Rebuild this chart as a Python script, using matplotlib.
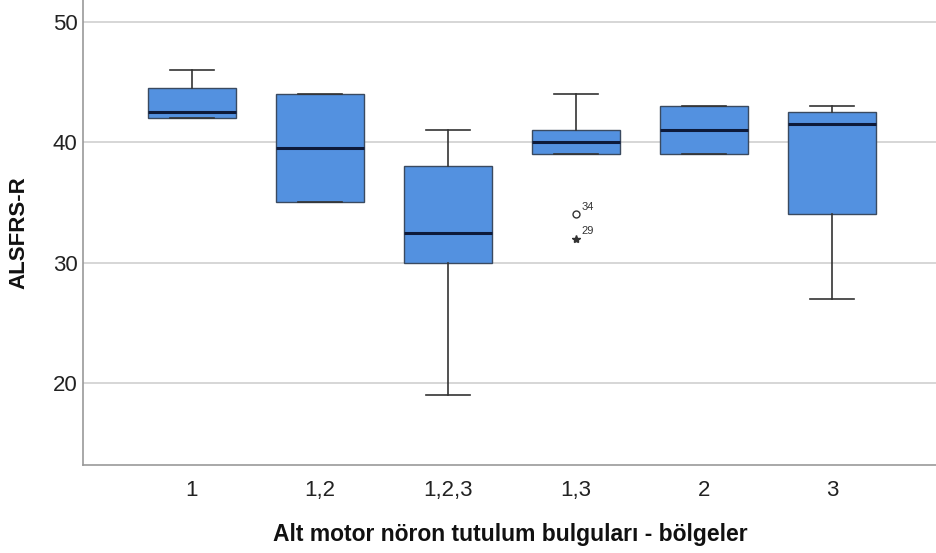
import matplotlib
matplotlib.use("Agg")
import matplotlib.pyplot as plt

plt.rcParams['font.family'] = ['Liberation Sans', 'DejaVu Sans']

categories = ["1", "1,2", "1,2,3", "1,3", "2", "3"]
whisker_low = [42.0, 35.0, 19.0, 39.0, 39.0, 27.0]
q1 = [42.0, 35.0, 30.0, 39.0, 39.0, 34.0]
median = [42.5, 39.5, 32.5, 40.0, 41.0, 41.5]
q3 = [44.5, 44.0, 38.0, 41.0, 43.0, 42.5]
whisker_high = [46.0, 44.0, 41.0, 44.0, 43.0, 43.0]

# outliers (group index, value, case label, kind)
outlier_group = [3, 3]
outlier_value = [34.0, 32.0]
outlier_case = ["34", "29"]
outlier_kind = ["o", "*"]

y_ticks = [20, 30, 40, 50]

fig = plt.figure(figsize=(9.37, 5.53), dpi=100)
ax = fig.add_axes([0.0886, 0.159, 0.9114, 0.841])

stats = []
for i, name in enumerate(categories):
    stats.append(dict(label=name, whislo=whisker_low[i], q1=q1[i], med=median[i],
                      q3=q3[i], whishi=whisker_high[i], fliers=[]))

positions = list(range(len(categories)))
ax.bxp(stats, positions=positions, widths=0.69, patch_artist=True,
       showfliers=False, capwidths=0.34,
       boxprops=dict(facecolor="#5391e0", edgecolor="#3a4a60", linewidth=1.0),
       medianprops=dict(color="#0d1a3a", linewidth=2.2),
       whiskerprops=dict(color="#333333", linewidth=1.2),
       capprops=dict(color="#333333", linewidth=1.2))

for g, v, lab, k in zip(outlier_group, outlier_value, outlier_case, outlier_kind):
    if k == "o":
        ax.plot(g, v, marker="o", markersize=5, markerfacecolor="white",
                markeredgecolor="#333333", markeredgewidth=1.0, zorder=4)
    else:
        ax.plot(g, v, marker="*", markersize=6, color="#333333", zorder=4)
    ax.annotate(lab, (g, v), xytext=(4, 3), textcoords="offset points",
                fontsize=8, color="#333333")

ax.set_xlim(-0.85, 5.82)
ax.set_ylim(13.2, 51.8)
ax.set_yticks(y_ticks)
ax.set_xticks(positions)
ax.set_xticklabels(categories)
ax.yaxis.grid(True, color="#d0d0d0", linewidth=1.2)
ax.set_axisbelow(True)
ax.tick_params(axis="both", length=0, labelsize=16, colors="#222222")
ax.tick_params(axis="x", pad=11)
ax.tick_params(axis="y", pad=4)
for side in ["top", "right"]:
    ax.spines[side].set_visible(False)
for side in ["left", "bottom"]:
    ax.spines[side].set_color("#999999")
    ax.spines[side].set_linewidth(1.2)

ax.set_ylabel("ALSFRS-R", fontsize=16, fontweight="bold", color="#111111")
ax.yaxis.set_label_coords(-0.063, 0.5)
ax.set_xlabel("Alt motor nöron tutulum bulguları - bölgeler", fontsize=16.5,
              fontweight="bold", color="#111111")
ax.xaxis.set_label_coords(0.5, -0.125)

fig.savefig("out.png", dpi=100)
